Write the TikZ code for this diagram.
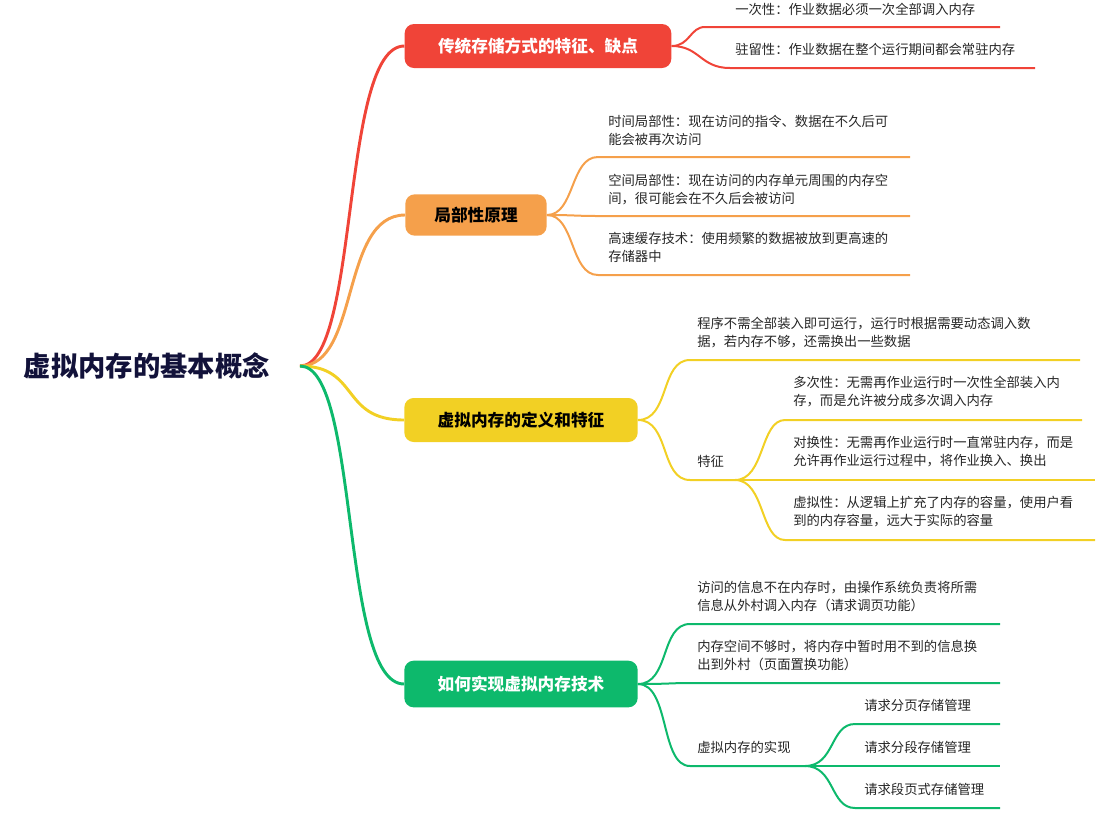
\documentclass[tikz,border=0pt]{standalone}
\usepackage{fontspec}
\newfontfamily\cjk{Noto Sans CJK SC}
\begin{document}
\begin{tikzpicture}[x=0.75pt,y=-0.75pt,
  box/.style={rounded corners=7pt,minimum height=33pt,inner xsep=6pt,font=\cjk\fontsize{12.5}{14}\selectfont\bfseries},
  leaf/.style={anchor=north west,font=\cjk\fontsize{10}{13.5}\selectfont,align=left,inner sep=0pt,text=black!85},
  br/.style={line width=2.2pt},
  lf/.style={line width=1.5pt}]
\definecolor{cr}{HTML}{F04438}\definecolor{co}{HTML}{F5A04B}
\definecolor{cy}{HTML}{F2D024}\definecolor{cg}{HTML}{0DB96C}\definecolor{nv}{HTML}{12123A}
\useasboundingbox (0,0) rectangle (1114,815);
\node[anchor=west,font=\cjk\fontsize{20.5}{23}\selectfont\bfseries,text=nv] (root) at (19,366) {虚拟内存的基本概念};
\coordinate (r0) at (300,366);
\node[box,fill=cr,text=white,minimum width=200pt] (b1) at (538,46) {传统存储方式的特征、缺点};
\node[box,fill=co,text=black,minimum width=106pt,minimum height=31pt] (b2) at (476,215) {局部性原理};
\node[box,fill=cy,text=black,minimum width=175pt] (b3) at (521,420) {虚拟内存的定义和特征};
\node[box,fill=cg,text=white,minimum width=175pt,minimum height=35pt] (b4) at (521,684) {如何实现虚拟内存技术};
\draw[br,cr] (r0) .. controls (360,366) and (340,46) .. (b1.west);
\draw[br,co] (r0) .. controls (360,366) and (340,215) .. (b2.west);
\draw[br,cy] (r0) .. controls (360,366) and (340,420) .. (b3.west);
\draw[br,cg] (r0) .. controls (360,366) and (340,684) .. (b4.west);
% branch 1
\node[leaf] (t11) at (735,3) {一次性：作业数据必须一次全部调入内存};
\node[leaf] (t12) at (735,43) {驻留性：作业数据在整个运行期间都会常驻内存};
\coordinate (a11) at (705,27); \coordinate (e11) at (1000,27);
\coordinate (a12) at (730,68); \coordinate (e12) at (1035,68);
\draw[lf,cr] (b1.east) .. controls (690,46) and (690,27) .. (a11) -- (e11);
\draw[lf,cr] (b1.east) .. controls (700,46) and (700,68) .. (a12) -- (e12);
% branch 2
\node[leaf] (t21) at (608,115) {时间局部性：现在访问的指令、数据在不久后可\\能会被再次访问};
\node[leaf] (t22) at (608,174) {空间局部性：现在访问的内存单元周围的内存空\\间，很可能会在不久后会被访问};
\node[leaf] (t23) at (608,232) {高速缓存技术：使用频繁的数据被放到更高速的\\存储器中};
\coordinate (a21) at (598,157); \coordinate (e21) at (910,157);
\coordinate (a22) at (598,216); \coordinate (e22) at (910,216);
\coordinate (a23) at (598,275); \coordinate (e23) at (910,275);
\draw[lf,co] (b2.east) .. controls (575,215) and (570,157) .. (a21) -- (e21);
\draw[lf,co] (b2.east) .. controls (575,215) and (575,216) .. (a22) -- (e22);
\draw[lf,co] (b2.east) .. controls (575,215) and (570,275) .. (a23) -- (e23);
% branch 3
\node[leaf] (t31) at (697,317) {程序不需全部装入即可运行，运行时根据需要动态调入数\\据，若内存不够，还需换出一些数据};
\node[leaf] (t32) at (697,455) {特征};
\coordinate (a31) at (690,360); \coordinate (e31) at (1080,360);
\coordinate (a32) at (690,480); \coordinate (e32) at (735,480);
\draw[lf,cy] (b3.east) .. controls (670,420) and (660,360) .. (a31) -- (e31);
\draw[lf,cy] (b3.east) .. controls (670,420) and (660,480) .. (a32) -- (e32);
\node[leaf] (t33) at (793,376) {多次性：无需再作业运行时一次性全部装入内\\存，而是允许被分成多次调入内存};
\node[leaf] (t34) at (793,436) {对换性：无需再作业运行时一直常驻内存，而是\\允许再作业运行过程中，将作业换入、换出};
\node[leaf] (t35) at (793,496) {虚拟性：从逻辑上扩充了内存的容量，使用户看\\到的内存容量，远大于实际的容量};
\coordinate (a33) at (785,420); \coordinate (e33) at (1082,420);
\coordinate (a34) at (785,480); \coordinate (e34) at (1095,480);
\coordinate (a35) at (785,540); \coordinate (e35) at (1095,540);
\draw[lf,cy] (e32) .. controls (765,480) and (760,420) .. (a33) -- (e33);
\draw[lf,cy] (e32) -- (a34) -- (e34);
\draw[lf,cy] (e32) .. controls (765,480) and (760,540) .. (a35) -- (e35);
% branch 4
\node[leaf] (t41) at (697,581) {访问的信息不在内存时，由操作系统负责将所需\\信息从外村调入内存（请求调页功能）};
\node[leaf] (t42) at (697,640) {内存空间不够时，将内存中暂时用不到的信息换\\出到外村（页面置换功能）};
\node[leaf] (t43) at (697,741) {虚拟内存的实现};
\coordinate (a41) at (690,624); \coordinate (e41) at (1000,624);
\coordinate (a42) at (690,683); \coordinate (e42) at (1000,683);
\coordinate (a43) at (690,766); \coordinate (e43) at (805,766);
\draw[lf,cg] (b4.east) .. controls (670,684) and (660,624) .. (a41) -- (e41);
\draw[lf,cg] (b4.east) .. controls (670,684) and (670,683) .. (a42) -- (e42);
\draw[lf,cg] (b4.east) .. controls (670,684) and (660,766) .. (a43) -- (e43);
\node[leaf] (t44) at (864,699) {请求分页存储管理};
\node[leaf] (t45) at (864,741) {请求分段存储管理};
\node[leaf] (t46) at (864,783) {请求段页式存储管理};
\coordinate (a44) at (855,724); \coordinate (e44) at (1000,724);
\coordinate (a45) at (855,766); \coordinate (e45) at (1000,766);
\coordinate (a46) at (855,808); \coordinate (e46) at (1000,808);
\draw[lf,cg] (e43) .. controls (835,766) and (830,724) .. (a44) -- (e44);
\draw[lf,cg] (e43) -- (a45) -- (e45);
\draw[lf,cg] (e43) .. controls (835,766) and (830,808) .. (a46) -- (e46);
\end{tikzpicture}
\end{document}
